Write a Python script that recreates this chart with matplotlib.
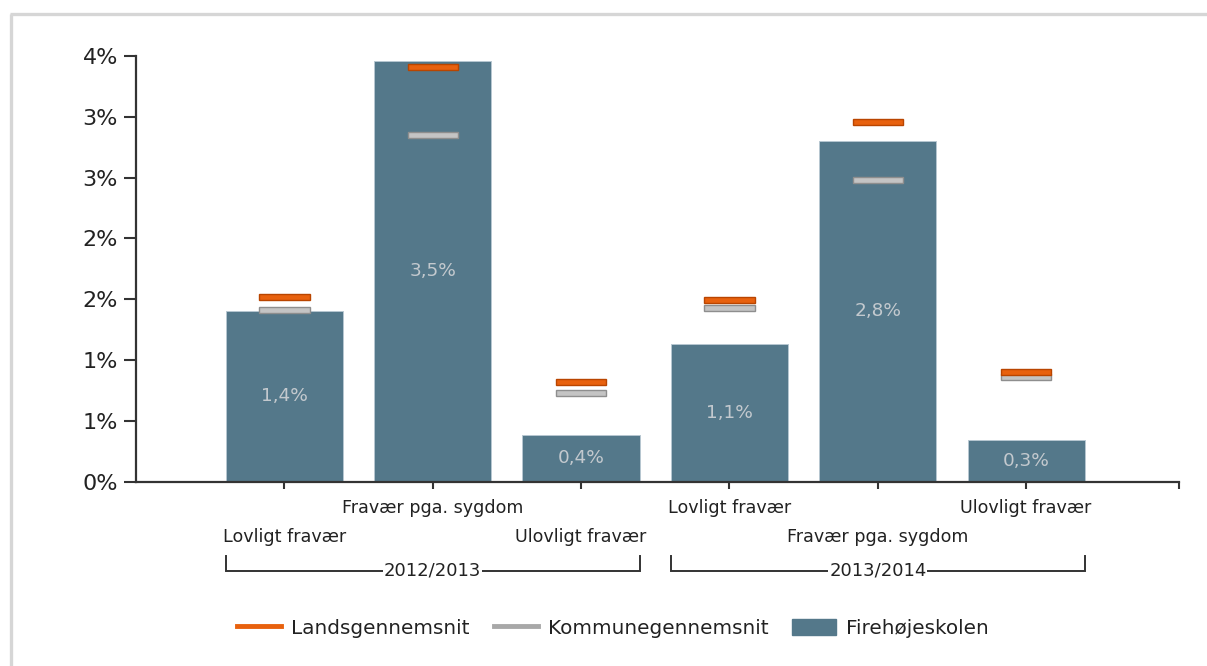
import matplotlib
matplotlib.use("Agg")
import matplotlib.pyplot as plt
from matplotlib.lines import Line2D
from matplotlib.patches import Patch
import numpy as np

# ---- data ----
years = ["2012/2013", "2013/2014"]
categories = ["Lovligt fravær", "Fravær pga. sygdom", "Ulovligt fravær"]
school = [1.40, 3.46, 0.38, 1.135, 2.80, 0.343]      # Firehøjeskolen
kommune = [1.41, 2.85, 0.73, 1.425, 2.48, 0.863]     # Kommunegennemsnit
land = [1.52, 3.41, 0.82, 1.49, 2.96, 0.90]          # Landsgennemsnit
yticks = [0, 0.5, 1.0, 1.5, 2.0, 2.5, 3.0, 3.5]

BAR_C = "#54788a"
ORANGE = "#e8610e"
ORANGE_E = "#b94500"
GRAY = "#c4c4c4"
GRAY_E = "#8e8e8e"
FONT = "DejaVu Sans"
plt.rcParams["font.family"] = [FONT]

W, H = 1207, 666
fig = plt.figure(figsize=(W / 100, H / 100), dpi=100)
x0, x1 = 136, 1179
y0, y1 = 481.5, 56
ax = fig.add_axes([x0 / W, 1 - y0 / H, (x1 - x0) / W, (y0 - y1) / H])

n = len(years) * len(categories)
x = np.arange(n)
labels = [c for _ in years for c in categories]

ax.bar(x, school, width=0.79, color=BAR_C, edgecolor="#b7c7d1", linewidth=0.7, zorder=2)
mh = 0.05
ax.bar(x, [mh] * n, bottom=np.array(kommune) - mh / 2, width=0.34, color=GRAY,
       edgecolor=GRAY_E, linewidth=1.0, zorder=3)
ax.bar(x, [mh] * n, bottom=np.array(land) - mh / 2, width=0.34, color=ORANGE,
       edgecolor=ORANGE_E, linewidth=1.0, zorder=4)

for xi, v in zip(x, school):
    ax.text(xi, v / 2, f"{v:.1f}".replace(".", ",") + "%", ha="center", va="center",
            color="#c3c9ce", fontsize=13.3, zorder=5)

ax.set_xlim(-1, 6.03)
ax.set_ylim(0, 3.5)
ax.set_yticks(yticks)
ax.set_yticklabels([f"{int(v + 0.5)}%" for v in yticks], fontsize=16, color="#222222")
ax.set_xticks(x)
ax.set_xticklabels([])
ax.set_xticks([6.03], minor=True)
ax.tick_params(axis="y", length=9, width=1.5, pad=4, color="#333333")
ax.tick_params(axis="x", which="both", length=5, width=1.5, color="#333333")
for s in ["top", "right"]:
    ax.spines[s].set_visible(False)
for s in ["left", "bottom"]:
    ax.spines[s].set_linewidth(1.6)
    ax.spines[s].set_color("#333333")

tr = ax.get_xaxis_transform()
for i, lab in enumerate(labels):
    yy = -0.0623 if i % 2 == 1 else -0.130
    ax.text(i, yy, lab, transform=tr, ha="center", va="center", fontsize=12.6,
            color="#222222", clip_on=False)

ylow, yhigh = -0.210, -0.176
for g, yr in enumerate(years):
    a = g * 3 - 0.395
    b = g * 3 + 2 + 0.395
    ax.plot([a, a, b, b], [yhigh, ylow, ylow, yhigh], transform=tr, color="#333333",
            lw=1.4, clip_on=False, solid_joinstyle="miter")
    ax.text((a + b) / 2, ylow, yr, transform=tr, ha="center", va="center", fontsize=13,
            color="#222222", clip_on=False,
            bbox=dict(facecolor="white", edgecolor="none", pad=0.5))

handles = [
    Line2D([], [], color=ORANGE, lw=3.5),
    Line2D([], [], color="#a8a8a8", lw=3.5),
    Patch(facecolor=BAR_C, edgecolor=BAR_C),
]
leg = fig.legend(handles, ["Landsgennemsnit", "Kommunegennemsnit", "Firehøjeskolen"],
                 loc="center", bbox_to_anchor=(613 / W, 1 - 628 / H), ncol=3,
                 frameon=False, fontsize=14.4, handlelength=2.2, handletextpad=0.5,
                 columnspacing=1.2, handleheight=0.85)
for t in leg.get_texts():
    t.set_color("#222222")

# outer frame (top and left edges visible)
fig.add_artist(Line2D([11 / W, 11 / W], [0, 1 - 13.5 / H], color="#d6d6d6", lw=2.4,
                      transform=fig.transFigure, solid_capstyle="butt"))
fig.add_artist(Line2D([10 / W, 1], [1 - 13.5 / H, 1 - 13.5 / H], color="#d6d6d6", lw=2.4,
                      transform=fig.transFigure, solid_capstyle="butt"))

fig.savefig("out.png", dpi=100, facecolor="white")
